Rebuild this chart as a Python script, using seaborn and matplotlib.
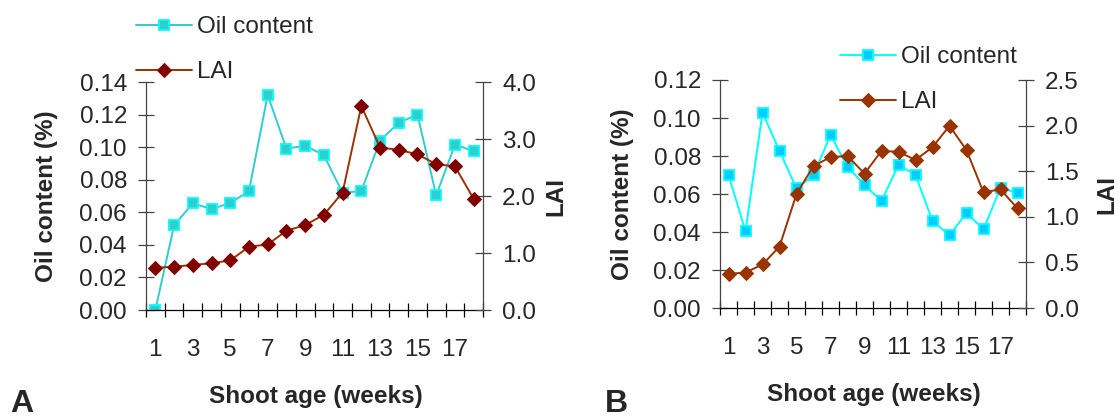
import matplotlib
matplotlib.use("Agg")
import matplotlib.pyplot as plt
import matplotlib.ticker as mticker
import seaborn as sns
import pandas as pd

# Shoot age in weeks
weeks = list(range(1, 19))

# Panel A
oil_a = [0.000, 0.052, 0.0655, 0.062, 0.0657, 0.073, 0.132, 0.099, 0.101, 0.095,
         0.072, 0.073, 0.104, 0.115, 0.120, 0.0704, 0.1015, 0.0976]
lai_a = [0.74, 0.76, 0.79, 0.82, 0.87, 1.11, 1.15, 1.39, 1.49, 1.67,
         2.06, 3.58, 2.85, 2.81, 2.73, 2.56, 2.52, 1.95]

# Panel B
oil_b = [0.070, 0.0405, 0.1028, 0.0827, 0.0629, 0.070, 0.091, 0.0743, 0.0648, 0.0562,
         0.0754, 0.070, 0.0458, 0.0382, 0.050, 0.0414, 0.0632, 0.0606]
lai_b = [0.374, 0.389, 0.477, 0.674, 1.25, 1.558, 1.653, 1.668, 1.474, 1.723,
         1.712, 1.624, 1.763, 1.998, 1.730, 1.268, 1.301, 1.092]

sns.set_style("white")
plt.rcParams['font.family'] = ['Liberation Sans', 'DejaVu Sans']

W, H = 1119, 419
fig = plt.figure(figsize=(W / 100, H / 100), dpi=100)

TICK_FS = 17.5
LAB_FS = 17.5


def panel(rect, oil, lai, oil_max, lai_max, lai_step, oil_style, lai_style,
          ylab_x, lai_x, leg_xy):
    df = pd.DataFrame({'week': weeks, 'oil': oil, 'lai': lai})
    ax = fig.add_axes(rect)
    sns.lineplot(data=df, x='week', y='oil', ax=ax, marker='s', label='Oil content',
                 legend=False, **oil_style)
    ax2 = ax.twinx()
    sns.lineplot(data=df, x='week', y='lai', ax=ax2, marker='D', label='LAI',
                 legend=False, **lai_style)

    ax.set_xlim(0.5, 18.5)
    ax.set_ylim(0, oil_max)
    ax2.set_ylim(0, lai_max)

    # category boundary ticks, labels on every second category
    ax.xaxis.set_major_locator(mticker.FixedLocator([w - 0.5 for w in weeks] + [18.5]))
    ax.xaxis.set_major_formatter(mticker.NullFormatter())
    ax.xaxis.set_minor_locator(mticker.FixedLocator(weeks[::2]))
    ax.xaxis.set_minor_formatter(mticker.FixedFormatter([str(w) for w in weeks[::2]]))
    ax.tick_params(axis='x', which='major', direction='inout', length=9.5, width=0.9,
                   color='black', bottom=True)
    ax.tick_params(axis='x', which='minor', length=0, pad=21, labelsize=TICK_FS,
                   bottom=True)

    ax.yaxis.set_major_locator(mticker.MultipleLocator(0.02))
    ax.yaxis.set_major_formatter(mticker.FormatStrFormatter('%.2f'))
    ax.tick_params(axis='y', direction='inout', length=11.5, width=0.9, color='#444444',
                   pad=8, labelsize=TICK_FS, left=True)
    ax2.yaxis.set_major_locator(mticker.MultipleLocator(lai_step))
    ax2.yaxis.set_major_formatter(mticker.FormatStrFormatter('%.1f'))
    ax2.tick_params(axis='y', direction='inout', length=11.5, width=0.9, color='#444444',
                    pad=8, labelsize=TICK_FS, right=True)

    for a in (ax, ax2):
        a.spines['top'].set_visible(False)
        a.spines['left'].set_color('#444444')
        a.spines['right'].set_color('#444444')
        a.spines['bottom'].set_color('black')
        for s in a.spines.values():
            s.set_linewidth(0.9)
    ax2.spines['bottom'].set_visible(False)
    ax2.spines['left'].set_visible(False)
    ax.spines['right'].set_visible(False)

    ax.set_xlabel('Shoot age (weeks)', fontsize=LAB_FS, fontweight='bold')
    ax.xaxis.set_label_coords(0.504, -0.38)
    ax.xaxis.label.set_va('center')
    ax.set_ylabel('Oil content (%)', fontsize=LAB_FS, fontweight='bold')
    ax.yaxis.set_label_coords(ylab_x, 0.5)
    ax.yaxis.label.set_va('center')
    ax2.set_ylabel('LAI', fontsize=LAB_FS, fontweight='bold')
    ax2.yaxis.set_label_coords(lai_x, 0.5)
    ax2.yaxis.label.set_va('center')

    h1, l1 = ax.get_legend_handles_labels()
    h2, l2 = ax2.get_legend_handles_labels()
    fig.legend(h1 + h2, l1 + l2, loc='upper left',
               bbox_to_anchor=(leg_xy[0] / W, 1 - leg_xy[1] / H),
               frameon=False, fontsize=LAB_FS, handlelength=2.3, handletextpad=0.2,
               labelspacing=0.95, borderpad=0, borderaxespad=0)
    return ax, ax2


axA = panel([146 / W, 1 - 310 / H, 337 / W, 228 / H], oil_a, lai_a, 0.14, 4.0, 1.0,
            dict(color='#33CCCC', lw=1.4, markersize=7.5, markerfacecolor='#33CCCC',
                 markeredgecolor='#00FFFF', markeredgewidth=1.3),
            dict(color='#993300', lw=1.4, markersize=7.5, markerfacecolor='#800000',
                 markeredgecolor='#800000'),
            -0.294, 1.215, (136, 16))

axB = panel([720 / W, 1 - 308 / H, 306 / W, 228 / H], oil_b, lai_b, 0.12, 2.5, 0.5,
            dict(color='#00FFFF', lw=1.4, markersize=7.5, markerfacecolor='#00CCFF',
                 markeredgecolor='#00FFFF', markeredgewidth=1.3),
            dict(color='#993300', lw=1.4, markersize=7.5, markerfacecolor='#993300',
                 markeredgecolor='#993300'),
            -0.32, 1.265, (840, 46))

fig.text(10 / W, 0, 'A', fontsize=23, fontweight='bold', ha='left', va='bottom')
fig.text(605 / W, 0, 'B', fontsize=23, fontweight='bold', ha='left', va='bottom')

fig.savefig('out.png', dpi=100)
